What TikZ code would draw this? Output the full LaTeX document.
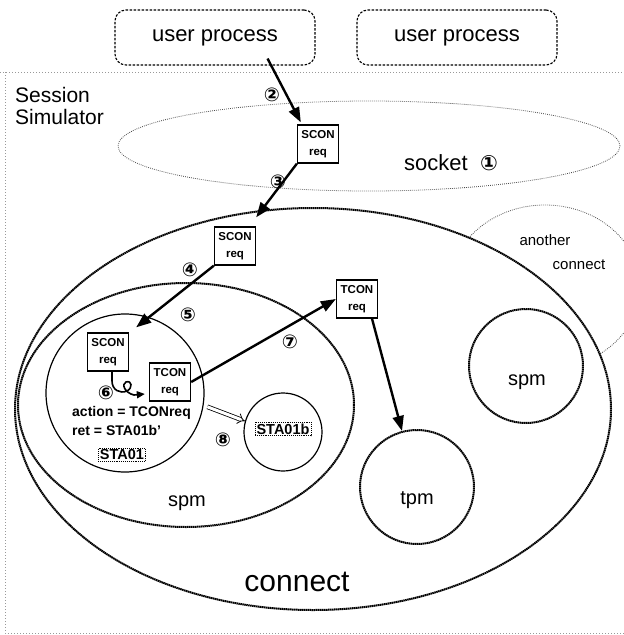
\documentclass[tikz,border=0pt]{standalone}
\usepackage{fontspec}
\setmainfont{Liberation Sans}
\newfontfamily\circfont{DejaVu Sans}
\usetikzlibrary{arrows.meta}
\newcommand\fsz[1]{\fontsize{#1}{#1}\selectfont}

\begin{document}
\begin{tikzpicture}[x=1pt,y=-1pt,
  proc/.style={draw, dash pattern=on 2.5pt off 1.5pt, line width=1.1pt,
    rounded corners=11pt, minimum width=200pt, minimum height=55pt, font=\fsz{22}},
  msg/.style={draw, line width=1.3pt, minimum width=41pt, minimum height=38pt,
    inner sep=1pt, align=center, font=\bfseries\fontsize{11.5}{17}\selectfont},
  arr/.style={line width=2.4pt, -{Triangle[length=15pt,width=11pt]}},
  num/.style={font=\circfont\bfseries\fsz{19}, inner sep=0pt},
  statebox/.style={draw, densely dotted, line width=0.9pt, inner sep=1.5pt, font=\bfseries\fsz{14.5}},
  rough/.style={line width=2pt, dash pattern=on 1.5pt off 0.5pt},
  thindots/.style={black!70, line width=0.8pt, dash pattern=on 0.8pt off 1.2pt},
  framedots/.style={black!40, line width=0.6pt, dash pattern=on 1pt off 2pt},
  lbl/.style={inner sep=0pt},
]
\useasboundingbox (0,0) rectangle (624,635);
\clip (0,0) rectangle (624,635);

% simulator frame
\draw[framedots] (0,72) -- (624,72);
\draw[framedots] (5,72) -- (5,633) -- (624,633);
\node[lbl, anchor=west, font=\fsz{21}] (sess) at (15,95) {Session};
\node[lbl, anchor=west, font=\fsz{21}] (simu) at (15,117) {Simulator};

% user processes
\node[proc] (up1) at (215,37.5) {user process};
\node[proc] (up2) at (457,37.5) {user process};

% socket
\draw[thindots] (369,146) ellipse [x radius=251pt, y radius=45pt];
\node[lbl, font=\fsz{22}] (sock) at (436,163) {socket};
\node[lbl, font=\circfont\bfseries\fsz{21}] (n1) at (489,163) {①};

% another connect (only the part outside the connect ellipse shows)
\draw[thindots] (545,287) ellipse [x radius=95pt, y radius=82pt];
\fill[white] (313,409) ellipse [x radius=298pt, y radius=201pt];
\draw[rough] (313,409) ellipse [x radius=298pt, y radius=201pt];
\node[lbl, font=\fsz{15}] (anoth) at (545,240) {another};
\node[lbl, font=\fsz{15}] (anconn) at (579,265) {connect};
\node[lbl, font=\fsz{30}] (conn) at (297,582) {connect};

% spm of the session
\draw[rough] (186,405) ellipse [x radius=168pt, y radius=122pt];
\node[lbl, font=\fsz{20}] (spmL) at (187,503) {spm};

% state machine
\node[circle, draw, line width=1.2pt, minimum size=158pt, inner sep=0pt] (sta) at (125,393) {};
\node[circle, draw, line width=1.2pt, minimum size=78pt, inner sep=0pt] (stab) at (283,432) {};
\node[statebox] (s1) at (122,455) {STA01};
\node[statebox] (s1b) at (283,429) {STA01b};
\node[lbl, anchor=west, font=\bfseries\fsz{14}] (act) at (72,413) {action = TCONreq};
\node[lbl, anchor=west, font=\bfseries\fsz{14}] (ret) at (72,430) {ret = STA01b'};

% other spm and tpm
\node[circle, draw, rough, minimum size=114pt, inner sep=0pt] (spmR) at (526,366) {};
\node[lbl, font=\fsz{20}] (spmRt) at (527,382) {spm};
\node[circle, draw, rough, minimum size=114pt, inner sep=0pt] (tpm) at (417,487) {};
\node[lbl, font=\fsz{20}] (tpmt) at (417,500) {tpm};

% messages
\node[msg] (scon1) at (318,144) {SCON\\req};
\node[msg] (scon2) at (235,246) {SCON\\req};
\node[msg] (scon3) at (108,352) {SCON\\req};
\node[msg] (tcon1) at (170,382) {TCON\\req};
\node[msg] (tcon2) at (357,299) {TCON\\req};

% flow
\draw[arr] ([xshift=-48pt,yshift=7pt]up1.south east) -- ([xshift=4pt,yshift=2pt]scon1.north west);
\draw[arr] (scon1.south west) -- ([yshift=9pt]scon2.north east);
\draw[arr] (scon2.south west) -- ([xshift=7pt,yshift=5pt]scon3.north east);
\draw[line width=1.6pt, -{Triangle[length=8pt,width=7pt]}]
  ([xshift=4pt]scon3.south) -- (112,381)
  .. controls (112,390) and (120,394) .. (127,391)
  .. controls (133,388) and (132,380) .. (126,382)
  .. controls (121,384) and (125,393) .. (134,395)
  -- ([xshift=-4pt,yshift=-12pt]tcon1.west);
\draw[arr] (tcon1.east) -- (tcon2.west);
\draw[arr] ([xshift=15pt]tcon2.south) -- (tpm);
\draw[double, double distance=3pt, line width=0.8pt, -{Implies}]
  ([xshift=4pt]sta.-10) -- (stab.164);

% step numbers
\node[num] (n2) at (272,95) {②};
\node[num] (n3) at (278,182) {③};
\node[num] (n4) at (190,270) {④};
\node[num] (n5) at (188,315) {⑤};
\node[num] (n6) at (106,393) {⑥};
\node[num] (n7) at (290,342) {⑦};
\node[num] (n8) at (223,440) {⑧};
\end{tikzpicture}
\end{document}
